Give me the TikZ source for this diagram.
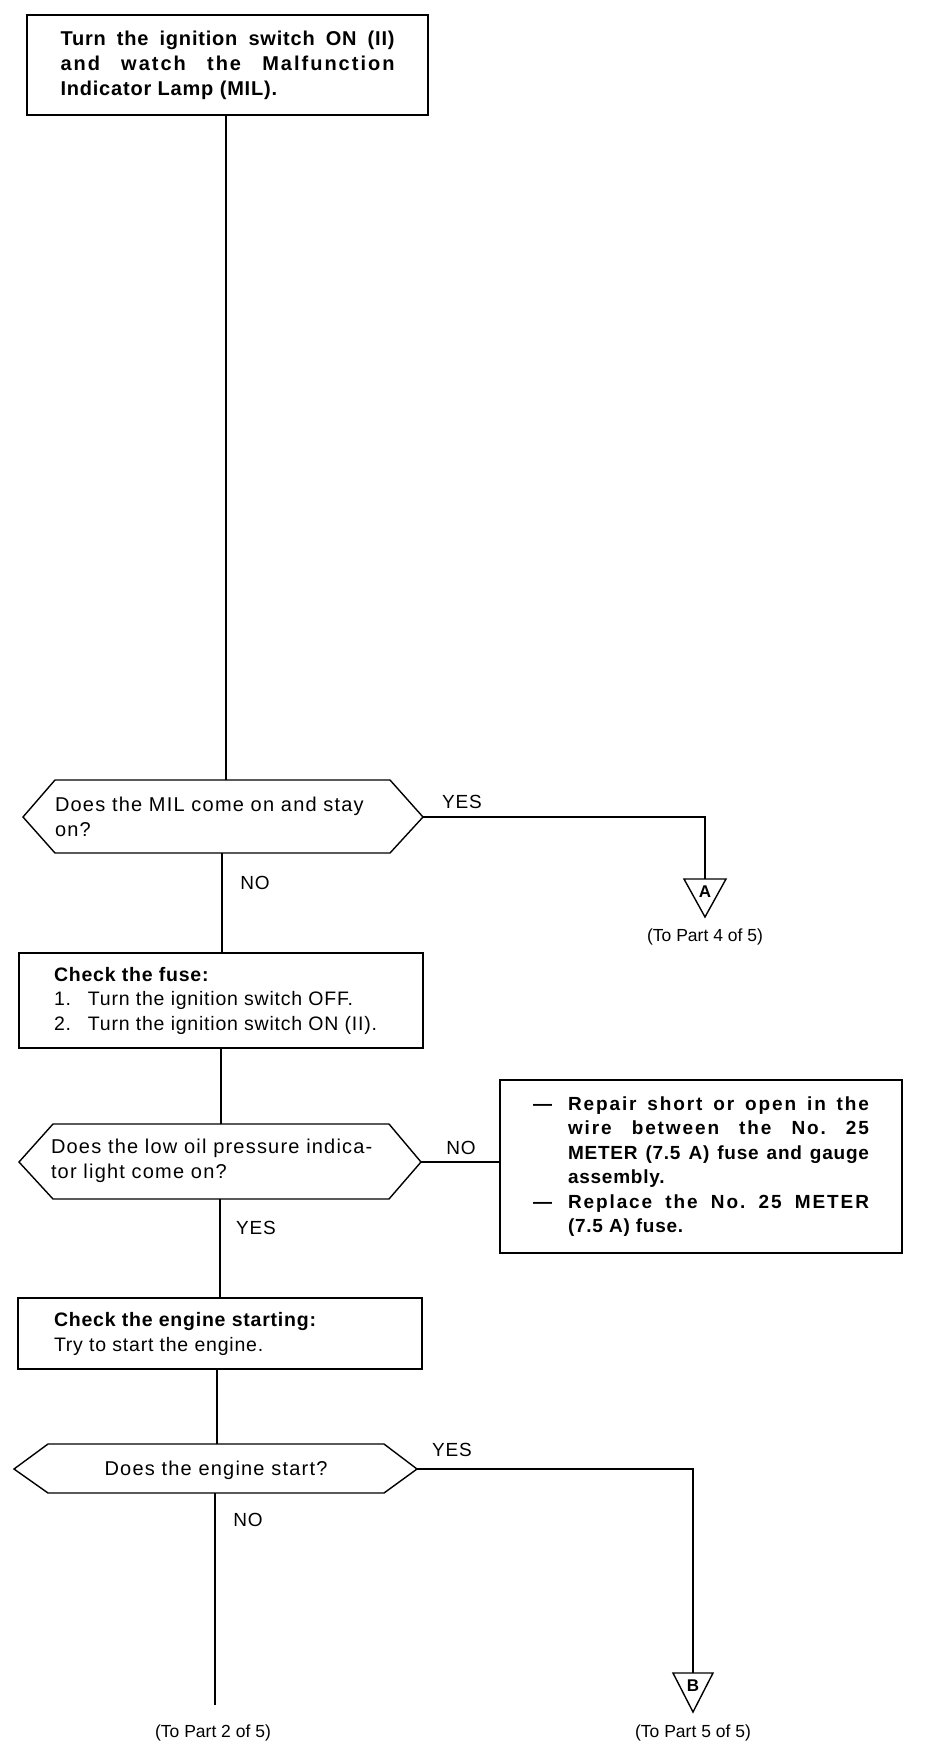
\documentclass[tikz,border=0pt]{standalone}
\usepackage{fontspec}
\setmainfont{Liberation Sans}[LetterSpace=4]
\newfontfamily\hexfont{Liberation Sans}[LetterSpace=6]
\newfontfamily\widefont{Liberation Sans}[LetterSpace=10]
\newfontfamily\smallfont{Liberation Sans}
\begin{document}
\begin{tikzpicture}[x=1pt,y=-1pt,line width=1.4pt,
  shapeline/.style={draw,line width=1.4pt},
  boxnode/.style={draw,line width=1.4pt,inner sep=0pt,align=left},
  txt/.style={inner sep=0pt,font=\hexfont\fontsize{20}{24.5}\selectfont},
  lbl/.style={inner sep=0pt,font=\fontsize{19}{24.5}\selectfont},
  foot/.style={inner sep=0pt,font=\smallfont\fontsize{17.5}{20}\selectfont},
  tri/.style={inner sep=0pt,font=\smallfont\bfseries\fontsize{17}{18}\selectfont}]
\useasboundingbox[fill=white] (0,0) rectangle (944,1756);

% Box 1
\node[boxnode,minimum width=401pt,minimum height=100pt] (b1) at (227.5,65)
  {\parbox{334pt}{\fontsize{20}{25}\selectfont\bfseries Turn the ignition switch ON (II)\linebreak {\widefont\bfseries and watch the Malfunction}\linebreak Indicator Lamp (MIL).}};

% Hexagon 1
\coordinate (q1w) at (23,817);
\coordinate (q1nw) at (55,780);
\coordinate (q1ne) at (390,780);
\coordinate (q1e) at (423,817);
\coordinate (q1se) at (390,853);
\coordinate (q1sw) at (55,853);
\draw[shapeline] (q1w) -- (q1nw) -- (q1ne) -- (q1e) -- (q1se) -- (q1sw) -- cycle;
\node[txt] (q1) at (223,817) {\parbox{336pt}{Does the MIL come on and stay\\on?}};
\coordinate (q1n) at (226,780);
\coordinate (q1s) at (222,853);

% YES 1 -> A
\node[lbl] (yes1) at (462,802) {YES};
\coordinate (a1c) at (705,817);
\coordinate (triAtop) at (705,879);
\draw[shapeline,line join=miter] (684,879) -- (726,879) -- (705,917) -- cycle;
\node[tri] (triA) at (705,892) {A};
\node[foot] (toA) at (705,937) {(To Part 4 of 5)};
\draw (q1e) -- (a1c) -- (triAtop);

% NO 1
\node[lbl] (no1) at (255,883) {NO};

% Box 2
\node[boxnode,minimum width=404pt,minimum height=95pt] (b2) at (221,1000.5)
  {\parbox{334pt}{\fontsize{19.5}{24.5}\selectfont\textbf{Check the fuse:}\\
   \makebox[34pt][l]{1.}Turn the ignition switch OFF.\\
   \makebox[34pt][l]{2.}Turn the ignition switch ON (II).}};
\draw (b1.south -| q1n) -- (q1n);
\draw (q1s) -- (q1s |- b2.north);

% Hexagon 2
\coordinate (q2w) at (19,1162);
\coordinate (q2nw) at (53,1124);
\coordinate (q2ne) at (389,1124);
\coordinate (q2e) at (421,1162);
\coordinate (q2se) at (389,1199);
\coordinate (q2sw) at (53,1199);
\draw[shapeline] (q2w) -- (q2nw) -- (q2ne) -- (q2e) -- (q2se) -- (q2sw) -- cycle;
\node[txt] (q2) at (220,1161) {\parbox{338pt}{Does the low oil pressure indica-\\tor light come on?}};
\coordinate (q2n) at (221,1124);
\coordinate (q2s) at (220,1199);
\draw (q2n |- b2.south) -- (q2n);

% NO 2 -> Box 3
\node[lbl] (no2) at (461,1148) {NO};
\node[boxnode,minimum width=402pt,minimum height=173pt] (b3) at (701,1166.5)
  {\begin{minipage}{336pt}\fontsize{19}{24.5}\selectfont\bfseries
   \hangindent=35pt\hangafter=1\noindent\makebox[35pt][l]{---}{\widefont\bfseries Repair short or open in the}\linebreak {\widefont\bfseries wire between the No.\ 25}\linebreak METER (7.5 A) fuse and gauge\linebreak assembly.\par
   \hangindent=35pt\hangafter=1\noindent\makebox[35pt][l]{---}{\widefont\bfseries Replace the No.\ 25 METER}\linebreak (7.5 A) fuse.\par
   \end{minipage}};
\draw (q2e) -- (q2e -| b3.west);

% YES 2
\node[lbl] (yes2) at (256,1228) {YES};

% Box 4
\node[boxnode,minimum width=404pt,minimum height=71pt] (b4) at (220,1333.5)
  {\parbox{332pt}{\fontsize{19.5}{25}\selectfont\textbf{Check the engine starting:}\\Try to start the engine.}};
\draw (q2s) -- (q2s |- b4.north);

% Hexagon 3
\coordinate (q3w) at (14,1469);
\coordinate (q3nw) at (48,1444);
\coordinate (q3ne) at (384,1444);
\coordinate (q3e) at (417,1469);
\coordinate (q3se) at (384,1493);
\coordinate (q3sw) at (48,1493);
\draw[shapeline] (q3w) -- (q3nw) -- (q3ne) -- (q3e) -- (q3se) -- (q3sw) -- cycle;
\node[txt] (q3) at (216,1470) {Does the engine start?};
\coordinate (q3n) at (217,1444);
\coordinate (q3s) at (215,1493);
\draw (q3n |- b4.south) -- (q3n);

% YES 3 -> B
\node[lbl] (yes3) at (452,1450) {YES};
\coordinate (b1c) at (693,1469);
\coordinate (triBtop) at (693,1673);
\draw[shapeline,line join=miter] (673,1673) -- (713,1673) -- (693,1712) -- cycle;
\node[tri] (triB) at (693,1686) {B};
\node[foot] (toB) at (693,1733) {(To Part 5 of 5)};
\draw (q3e) -- (b1c) -- (triBtop);

% NO 3 -> Part 2
\node[lbl] (no3) at (248,1520) {NO};
\coordinate (endNo) at (215,1705);
\draw (q3s) -- (endNo);
\node[foot] (toPart2) at (213,1733) {(To Part 2 of 5)};
\end{tikzpicture}
\end{document}
